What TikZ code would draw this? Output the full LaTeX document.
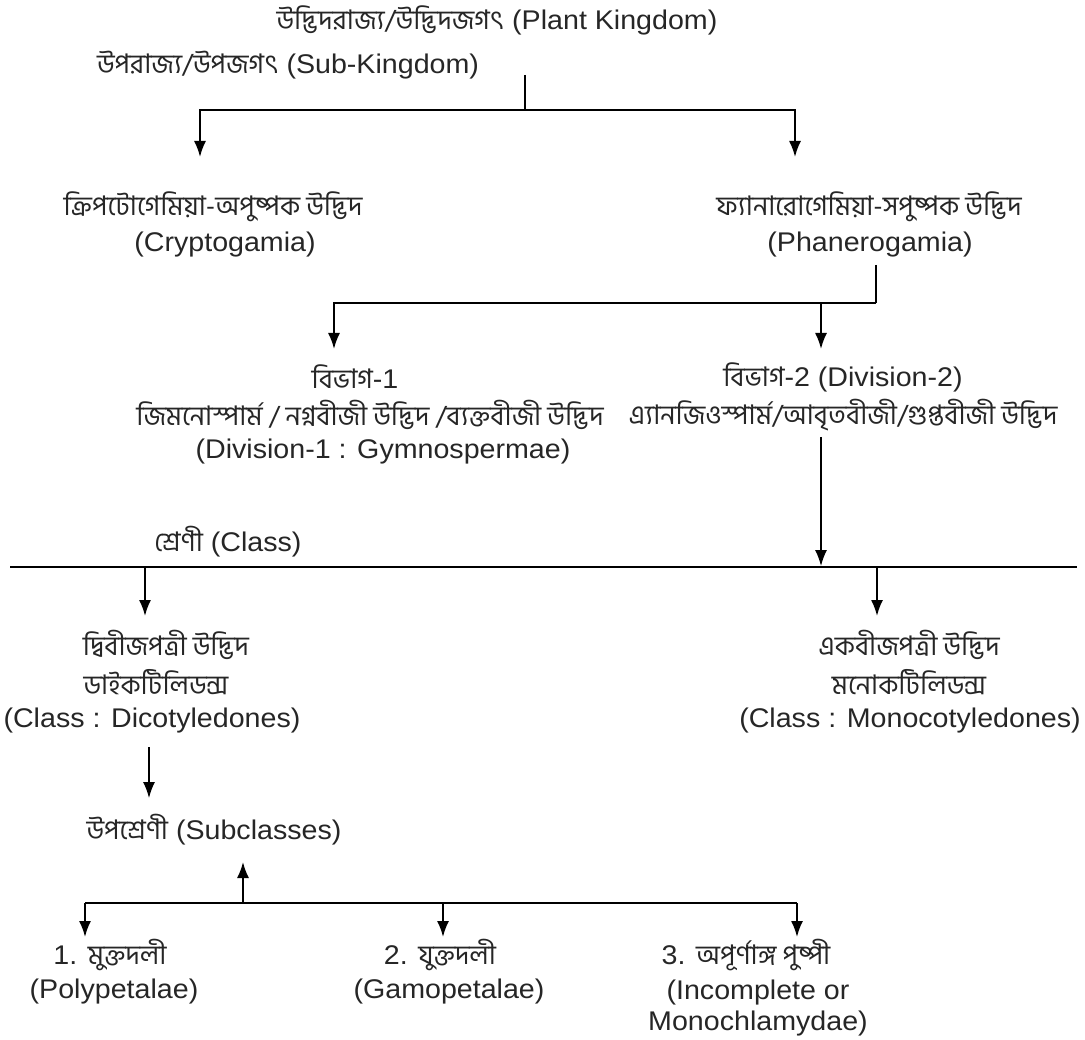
\documentclass[tikz,border=0pt]{standalone}
\usepackage{fontspec}
\setmainfont[FakeStretch=1.06]{Liberation Sans}
\newfontfamily\bn[Script=Bengali]{Hind Siliguri}
\usetikzlibrary{arrows.meta}
\tikzset{
  txt/.style={font=\fontsize{27}{31}\selectfont, text=black!85, inner sep=0pt, align=center},
  link/.style={line width=1.8pt},
  arr/.style={link, -{Latex[length=16pt,width=12pt]}}
}
\begin{document}
\begin{tikzpicture}[x=1pt,y=-1pt]
				\useasboundingbox (0,0) rectangle (1085,1040);
				% Kingdom and sub-kingdom
				\node[txt] (kingdom) at (497,20) {{\bn উদ্ভিদরাজ্য/উদ্ভিদজগৎ} (Plant Kingdom)};
				\node[txt] (subking) at (288,65) {{\bn উপরাজ্য/উপজগৎ} (Sub-Kingdom)};
				\coordinate (s0) at (525,75);
				\coordinate (s1) at (525,110);
				\coordinate (sl) at (200,110);
				\coordinate (sr) at (795,110);
				\coordinate (slt) at (200,157);
				\coordinate (srt) at (795,157);
				\draw[link] (s0) -- (s1);
				\draw[arr] (s1) -- (sl) -- (slt);
				\draw[arr] (s1) -- (sr) -- (srt);
				% Cryptogamia and Phanerogamia
				\node[txt] (crypto) at (213,207) {\bn ক্রিপটোগেমিয়া-অপুষ্পক উদ্ভিদ};
				\node[txt] (cryptoen) at (225,245) {(Cryptogamia)};
				\node[txt] (phan) at (869,207) {\bn ফ্যানারোগেমিয়া-সপুষ্পক উদ্ভিদ};
				\node[txt] (phanen) at (870,245) {(Phanerogamia)};
				\coordinate (p0) at (876,265);
				\coordinate (p1) at (876,303);
				\coordinate (pl) at (334,303);
				\coordinate (pr) at (821,303);
				\coordinate (plt) at (334,349);
				\coordinate (prt) at (821,349);
				\draw[link] (p0) -- (p1);
				\draw[arr] (p1) -- (pl) -- (plt);
				\draw[arr] (pr) -- (prt);
				% Divisions
				\node[txt] (div1) at (355,377) {{\bn বিভাগ}-1};
				\node[txt] (gymno) at (370,415) {\bn জিমনোস্পার্ম / নগ্নবীজী উদ্ভিদ /ব্যক্তবীজী উদ্ভিদ};
				\node[txt] (gymnoen) at (383,452) {(Division-1 : Gymnospermae)};
				\node[txt] (div2) at (843,377) {{\bn বিভাগ}-2 (Division-2)};
				\node[txt] (angio) at (843,415) {\bn এ্যানজিওস্পার্ম/আবৃতবীজী/গুপ্তবীজী উদ্ভিদ};
				\coordinate (d0) at (821,437);
				\coordinate (d1) at (821,566);
				\draw[arr, line width=1.4pt] (d0) -- (d1);
				% Class
				\node[txt] (class) at (228,542) {{\bn শ্রেণী} (Class)};
				\coordinate (cl) at (10,567);
				\coordinate (cr) at (1077,567);
				\draw[link, line width=1.4pt] (cl) -- (cr);
				\coordinate (c1) at (145,567);
				\coordinate (c1t) at (145,616);
				\coordinate (c2) at (877,567);
				\coordinate (c2t) at (877,616);
				\draw[arr] (c1) -- (c1t);
				\draw[arr] (c2) -- (c2t);
				\node[txt] (dico) at (166,645) {\bn দ্বিবীজপত্রী উদ্ভিদ};
				\node[txt] (dicob) at (156,682) {\bn ডাইকটিলিডন্স};
				\node[txt] (dicoen) at (152,721) {(Class : Dicotyledones)};
				\node[txt] (mono) at (909,645) {\bn একবীজপত্রী উদ্ভিদ};
				\node[txt] (monob) at (909,682) {\bn মনোকটিলিডন্স};
				\node[txt] (monoen) at (910,721) {(Class : Monocotyledones)};
				% Subclasses
				\coordinate (u0) at (149,747);
				\coordinate (u1) at (149,798);
				\draw[arr, line width=1.3pt] (u0) -- (u1);
				\node[txt] (subcl) at (214,830) {{\bn উপশ্রেণী} (Subclasses)};
				\coordinate (b0) at (243,903);
				\coordinate (b1) at (243,862);
				\draw[arr] (b0) -- (b1);
				\coordinate (bl) at (85,903);
				\coordinate (bm) at (443,903);
				\coordinate (br) at (797,903);
				\draw[link] (bl) -- (br);
				\foreach \p in {bl,bm,br}
					\draw[arr] (\p) -- ++(0,34);
				\node[txt] (poly) at (110,955) {1. {\bn মুক্তদলী}};
				\node[txt] (polyen) at (114,992) {(Polypetalae)};
				\node[txt] (gamo) at (440,955) {2. {\bn যুক্তদলী}};
				\node[txt] (gamoen) at (449,992) {(Gamopetalae)};
				\node[txt] (incom) at (746,955) {3. {\bn অপূর্ণাঙ্গ পুষ্পী}};
				\node[txt] (incomen) at (758,1008) {(Incomplete or\\Monochlamydae)};
			\end{tikzpicture}
\end{document}
